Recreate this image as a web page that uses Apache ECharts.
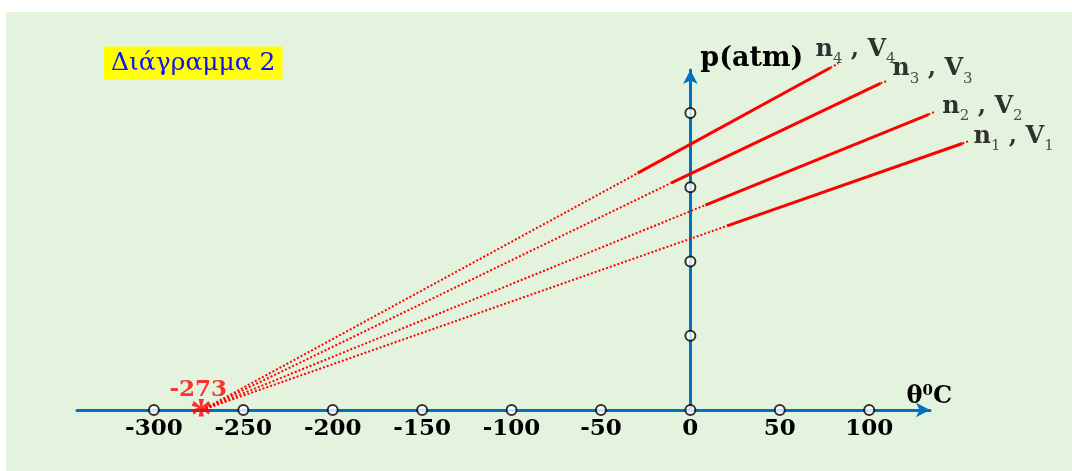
<!DOCTYPE html>
<html><head><meta charset="utf-8">
<script src="https://cdn.jsdelivr.net/npm/echarts@6/dist/echarts.min.js"></script>
<style>
html,body{margin:0;padding:0;background:#fff;}
#wrap{position:relative;width:1072px;height:471px;overflow:hidden;}
#panel{position:absolute;left:6px;top:12px;width:1066px;height:459px;background:#e4f3de;}
#c{position:absolute;left:0;top:0;width:1072px;height:471px;}
</style>
</head><body>
<div id="wrap"><div id="panel"></div><div id="c"></div></div>
<script>
// ---- data ----
const xTicks = [-300, -250, -200, -150, -100, -50, 0, 50, 100];   // θ (°C) tick marks
const yTicks = [1, 2, 3, 4];                                       // p tick marks (no labels)
const absZero = -273;
const lineIdx = ['1', '2', '3', '4'];
// each line: dotted from (-273,0) to solidStart, solid to solidEnd, short dotted tail to tailEnd
const solidStart = [[20.5, 2.48], [8.4, 2.76], [-10.6, 3.06], [-29.5, 3.19]];
const solidEnd   = [[152.1, 3.59], [133.1, 3.98], [106.3, 4.40], [78.3, 4.61]];
const tailEnd    = [[155.5, 3.62], [137.0, 4.02], [109.6, 4.43], [82.8, 4.67]];

const serif = 'DejaVu Serif';
const red = '#ff0000';
const blue = '#0070c0';

// axis ranges (main visible axes) and a wider hidden frame with the same scale for the lines
const X_MIN = -343, X_MAX = 134, Y_MIN = 0, Y_MAX = 4.58;
const X2_MAX = 170, Y2_MAX = 5;
const G = { left: 77, right: 142, top: 70, bottom: 61 };
const W = 1072, H = 471;
const pxPerX = (W - G.left - G.right) / (X_MAX - X_MIN);
const pxPerY = (H - G.top - G.bottom) / (Y_MAX - Y_MIN);
const G2 = {
  left: G.left, bottom: G.bottom,
  right: W - G.left - (X2_MAX - X_MIN) * pxPerX,
  top: H - G.bottom - (Y2_MAX - Y_MIN) * pxPerY
};

const series = [];
const onG2 = { xAxisIndex: 1, yAxisIndex: 1 };
lineIdx.forEach((n, i) => {
  series.push(Object.assign({
    type: 'line', data: [[absZero, 0], solidStart[i]], showSymbol: false, z: 3,
    lineStyle: { color: red, width: 2, type: [2, 2] }, silent: true
  }, onG2));
  series.push(Object.assign({
    type: 'line', data: [solidStart[i], solidEnd[i]], showSymbol: false, z: 3,
    lineStyle: { color: red, width: 3, type: 'solid' }, silent: true
  }, onG2));
  series.push(Object.assign({
    type: 'line', data: [solidEnd[i], tailEnd[i]], showSymbol: false, z: 3,
    lineStyle: { color: red, width: 2, type: [2, 2] }, silent: true
  }, onG2));
});

const labelOffsets = [[5, -5], [7, -5], [6, -12], [-23, -14]];
series.push(Object.assign({
  type: 'scatter', symbolSize: 0, z: 6,
  data: tailEnd.map((p, i) => ({
    value: p,
    label: {
      show: true, position: 'right', distance: 0, offset: labelOffsets[i],
      formatter: '{b|n}{s|' + lineIdx[i] + '}{b| , V}{s|' + lineIdx[i] + '}',
      rich: {
        b: { fontFamily: serif, fontWeight: 'bold', fontSize: 24, color: '#000', lineHeight: 34 },
        s: { fontFamily: serif, fontWeight: 'normal', fontSize: 15, color: '#222', lineHeight: 15, verticalAlign: 'bottom' }
      }
    }
  }))
}, onG2));

// tick circles
series.push({
  type: 'scatter', z: 8, symbol: 'circle', symbolSize: 10,
  itemStyle: { color: '#fff', borderColor: '#000', borderWidth: 2 },
  data: xTicks.map(v => [v, 0]).concat(yTicks.map(v => [0, v])), silent: true
});

// absolute zero marker
series.push({
  type: 'scatter', z: 9, symbolSize: 0, data: [[absZero, 0]],
  label: { show: true, position: 'inside', offset: [-1, 8], formatter: '*',
    fontFamily: 'Liberation Serif', fontWeight: 'bold', fontSize: 46, color: red }
});
series.push({
  type: 'scatter', z: 9, symbolSize: 0, data: [[absZero, 0]],
  label: { show: true, position: 'inside', offset: [-4, -20], formatter: String(absZero),
    fontFamily: serif, fontWeight: 'bold', fontSize: 23, color: red }
});

const hiddenAxis = { show: false, axisLine: { show: false }, axisTick: { show: false },
  axisLabel: { show: false }, splitLine: { show: false } };

const chart = echarts.init(document.getElementById('c'), null, { renderer: 'canvas' });
chart.setOption({
  animation: false,
  backgroundColor: 'transparent',
  title: {
    text: 'Διάγραμμα 2', left: 104, top: 47, backgroundColor: '#ffff00', padding: [4, 7],
    textStyle: { fontFamily: serif, fontSize: 25, fontWeight: 'normal', color: '#1010ff', lineHeight: 24 }
  },
  grid: [
    { left: G.left, right: G.right, top: G.top, bottom: G.bottom, containLabel: false },
    { left: G2.left, right: G2.right, top: G2.top, bottom: G2.bottom, containLabel: false }
  ],
  xAxis: [{
    type: 'value', min: X_MIN, max: X_MAX, gridIndex: 0,
    name: '{b|θ}{sup|0}{b|C}', nameLocation: 'end', nameGap: 22,
    nameTextStyle: {
      align: 'right', verticalAlign: 'bottom',
      rich: {
        b: { fontFamily: serif, fontWeight: 'bold', fontSize: 24, color: '#000', lineHeight: 26 },
        sup: { fontFamily: serif, fontWeight: 'bold', fontSize: 15, color: '#000', lineHeight: 15, verticalAlign: 'top' }
      }
    },
    axisLine: { show: true, onZero: true, symbol: ['none', 'arrow'], symbolSize: [11, 14],
      lineStyle: { color: blue, width: 3 } },
    axisTick: { show: false },
    splitLine: { show: false },
    axisLabel: {
      show: true, customValues: xTicks, margin: 8,
      fontFamily: serif, fontWeight: 'bold', fontSize: 23, color: '#000'
    }
  }, Object.assign({ type: 'value', min: X_MIN, max: X2_MAX, gridIndex: 1 }, hiddenAxis)],
  yAxis: [{
    type: 'value', min: Y_MIN, max: Y_MAX, gridIndex: 0,
    name: 'p(atm)', nameLocation: 'end', nameGap: -2,
    nameTextStyle: { align: 'left', verticalAlign: 'bottom', padding: [0, 0, 0, 10],
      fontFamily: serif, fontWeight: 'bold', fontSize: 27, color: '#000' },
    axisLine: { show: true, onZero: true, symbol: ['none', 'arrow'], symbolSize: [11, 14],
      lineStyle: { color: blue, width: 3 } },
    axisTick: { show: false },
    splitLine: { show: false },
    axisLabel: { show: false }
  }, Object.assign({ type: 'value', min: Y_MIN, max: Y2_MAX, gridIndex: 1 }, hiddenAxis)],
  series: series
});
</script>
</body></html>
